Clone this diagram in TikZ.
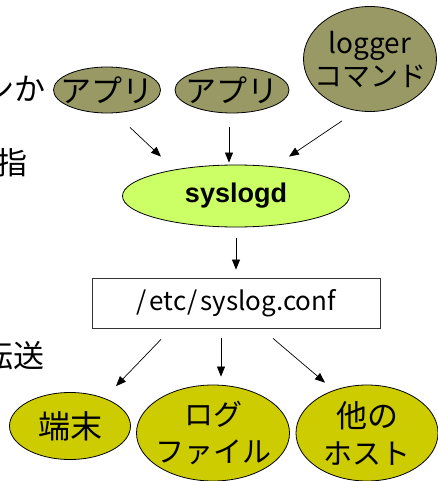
\documentclass[tikz,border=0pt]{standalone}
\usepackage{fontspec}
\usetikzlibrary{shapes.geometric,arrows.meta,calc}
\newfontfamily\jp{Noto Sans CJK JP}
\newfontfamily\lsb{Liberation Sans}
\definecolor{appfill}{RGB}{153,153,102}
\definecolor{daemonfill}{RGB}{204,255,102}
\definecolor{destfill}{RGB}{204,204,0}
\newcommand{\bigline}[1]{{\fontsize{31}{37}\selectfont #1}}
\begin{document}
\begin{tikzpicture}[x=1pt,y=-1pt,
  oval/.style={ellipse,draw=black,line width=0.8pt,inner sep=0pt},
  % the text sits in a centred label so the ellipse keeps its own size
  lbl/.style={align=center,inner sep=0pt},
  src/.style={oval,fill=appfill},
  dest/.style={oval,fill=destfill},
  srcfont/.style={font=\jp\fontsize{31}{33}\selectfont},
  destfont/.style={font=\jp\fontsize{29}{37}\selectfont},
  side/.style={anchor=east,inner sep=0pt,font=\jp\fontsize{31}{34}\selectfont},
  arr/.style={-{Triangle[length=10pt,width=8pt]},line width=0.7pt}]
\useasboundingbox (0,0) rectangle (437,481);

% text running in from the left margin
\node[side] (m1) at (46,89) {ンか};
\node[side] (m2) at (28,163) {指};
\node[side] (m3) at (45,356) {転送};

% log sources
\node[src,minimum width=107pt,minimum height=46pt,
      label={[lbl,srcfont]center:アプリ}] (a1) at (107,90) {};
\node[src,minimum width=114pt,minimum height=46pt,
      label={[lbl,srcfont]center:アプリ}] (a2) at (232,90) {};
\node[src,minimum width=133pt,minimum height=105pt,
      label={[lbl,font=\jp\fontsize{28}{33}\selectfont]center:{logger\\コマンド}}] (lg) at (370,59) {};

% daemon and its configuration
\node[oval,fill=daemonfill,minimum width=227pt,minimum height=62pt,
      label={[lbl,font=\lsb\bfseries\fontsize{27}{30}\selectfont]center:syslogd}] (sd) at (236,196) {};
\node[draw=black!80,line width=0.8pt,fill=white,minimum width=288pt,minimum height=50pt,
      inner sep=0pt,font=\jp\fontsize{26}{30}\selectfont] (cf) at (236,303)
      {/\kern3pt etc\kern1pt/\kern3pt syslog.conf};

% destinations
\node[dest,minimum width=121pt,minimum height=67pt,
      label={[lbl,font=\jp\fontsize{32}{37}\selectfont]center:端末}] (t1) at (70,426) {};
\node[dest,minimum width=153pt,minimum height=96pt,
      label={[lbl,destfont]center:{ログ\\ファイル}}] (t2) at (213,433) {};
\node[dest,minimum width=142pt,minimum height=96pt,
      label={[lbl,destfont]center:{\bigline{他の}\\ホスト}}] (t3) at (367,433) {};

% message flow
\draw[arr] ($(a1.south)+(23,14)$) -- ($(sd.north)+(-75,-8)$);
\draw[arr] ($(a2.south)+(-3,14)$) -- ($(sd.north)+(-7,-2)$);
\draw[arr] ($(lg.south)+(-28,9)$) -- ($(sd.north)+(53,-8)$);
\draw[arr] ($(sd.south)+(0,11)$) -- ($(cf.north)+(0,-8)$);
\draw[arr] ($(cf.south)+(-75,11)$) -- ($(t1.north)+(46,-6)$);
\draw[arr] ($(cf.south)+(-15,10)$) -- ($(t2.north)+(8,-8)$);
\draw[arr] ($(cf.south)+(37,10)$) -- ($(t3.north)+(-42,-2)$);
\end{tikzpicture}
\end{document}
